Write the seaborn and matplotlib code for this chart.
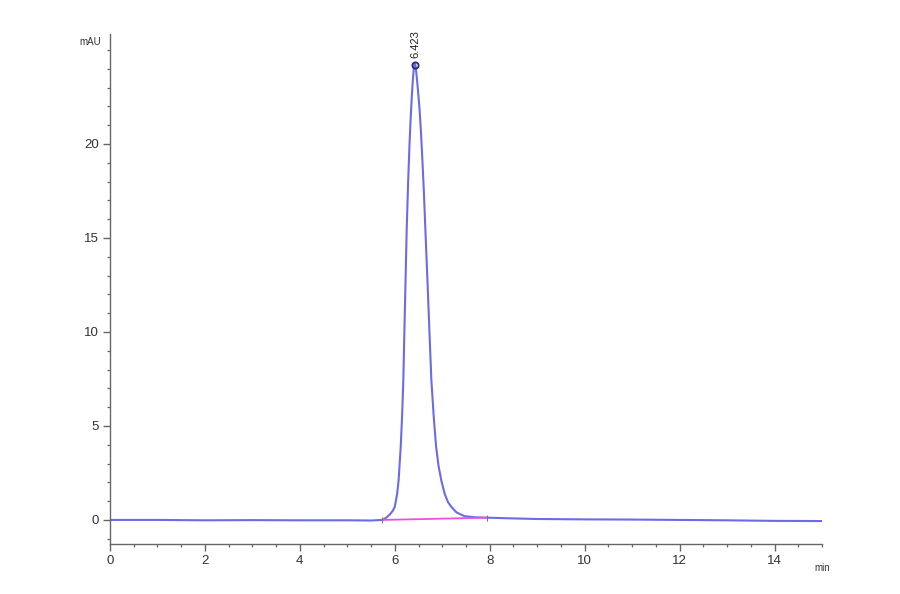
import matplotlib
matplotlib.use("Agg")
import matplotlib.pyplot as plt
import seaborn as sns
import pandas as pd
from matplotlib.ticker import MultipleLocator

# Chromatogram trace (retention time in min, signal in mAU)
time_min = [0.0, 1.0, 2.0, 3.0, 4.0, 5.0, 5.5, 5.74, 5.82, 5.90, 5.96, 6.00,
            6.05, 6.08, 6.125, 6.155, 6.18, 6.20, 6.225, 6.25, 6.28, 6.31,
            6.335, 6.36, 6.38, 6.40, 6.415, 6.43, 6.445, 6.465, 6.49, 6.52,
            6.55, 6.58, 6.61, 6.645, 6.69, 6.73, 6.77, 6.82, 6.87, 6.92,
            6.98, 7.05, 7.12, 7.19, 7.30, 7.47, 7.70, 7.95, 8.5, 9.0, 10.0,
            11.0, 12.0, 13.0, 14.0, 15.0]
signal_mau = [0.0, 0.0, -0.02, -0.01, -0.02, -0.02, -0.03, 0.0, 0.12, 0.3,
              0.5, 0.7, 1.4, 2.1, 3.9, 5.6, 7.45, 9.8, 12.6, 15.4, 17.9,
              20.0, 21.4, 22.6, 23.4, 24.0, 24.25, 24.25, 24.0, 23.5, 22.8,
              21.9, 20.7, 19.2, 17.6, 15.4, 12.6, 10.0, 7.45, 5.5, 3.9, 2.9,
              2.1, 1.4, 0.95, 0.7, 0.4, 0.2, 0.14, 0.12, 0.08, 0.05, 0.03,
              0.02, 0.0, -0.02, -0.05, -0.06]

# Integration baseline of the peak
baseline_time = [5.74, 7.94]
baseline_mau = [0.0, 0.12]

peak_rt = 6.423
peak_height = 24.2
peak_label = "6.423"

x_ticks = [0, 2, 4, 6, 8, 10, 12, 14]
y_ticks = [0, 5, 10, 15, 20]

sns.set_style("ticks")
plt.rcParams['font.family'] = ['Liberation Sans Narrow', 'Liberation Sans', 'DejaVu Sans']

fig = plt.figure(figsize=(9, 5.94), dpi=100)
ax = fig.add_axes([110 / 900, 1 - 544 / 594, 712 / 900, 510 / 594])

trace = pd.DataFrame({"time": time_min, "mAU": signal_mau})
base = pd.DataFrame({"time": baseline_time, "mAU": baseline_mau})

sns.lineplot(data=trace, x="time", y="mAU", ax=ax, color="#6b6be8",
             linewidth=1.5, sort=False, estimator=None)
sns.lineplot(data=base, x="time", y="mAU", ax=ax, color="#f04ede",
             linewidth=1.3, sort=False, estimator=None)

# peak start/end marks
ax.plot(baseline_time, baseline_mau, linestyle="none", marker="|",
        markersize=4, color="#777777", markeredgewidth=0.8)

# apex marker and label
ax.plot([peak_rt], [peak_height], marker="o", markersize=4.5,
        markerfacecolor="none", markeredgecolor="#2a2a70", markeredgewidth=1.3)
ax.text(peak_rt, peak_height + 0.35, peak_label, rotation=90, ha="center",
        va="bottom", fontsize=8, color="#222222")

ax.set_xlim(0, 15)
ax.set_ylim(-1.28, 25.85)
ax.set_xticks(x_ticks)
ax.set_yticks(y_ticks)
ax.xaxis.set_minor_locator(MultipleLocator(0.5))
ax.yaxis.set_minor_locator(MultipleLocator(1))

ax.set_xlabel("")
ax.set_ylabel("")
sns.despine(ax=ax)
for s in ["left", "bottom"]:
    ax.spines[s].set_color("#666666")
    ax.spines[s].set_linewidth(1.0)

ax.tick_params(axis="both", which="major", length=5, width=1.0,
               color="#666666", labelsize=9.5, labelcolor="#333333", pad=3)
ax.tick_params(axis="both", which="minor", length=2.5, width=0.9,
               color="#666666")

ax.text(-0.012, 0.985, "mAU", transform=ax.transAxes, ha="right",
        va="center", fontsize=7, color="#333333")
ax.text(1.0, -0.037, "min", transform=ax.transAxes, ha="center",
        va="top", fontsize=7, color="#333333")

fig.savefig("out.png", dpi=100, facecolor="white")
